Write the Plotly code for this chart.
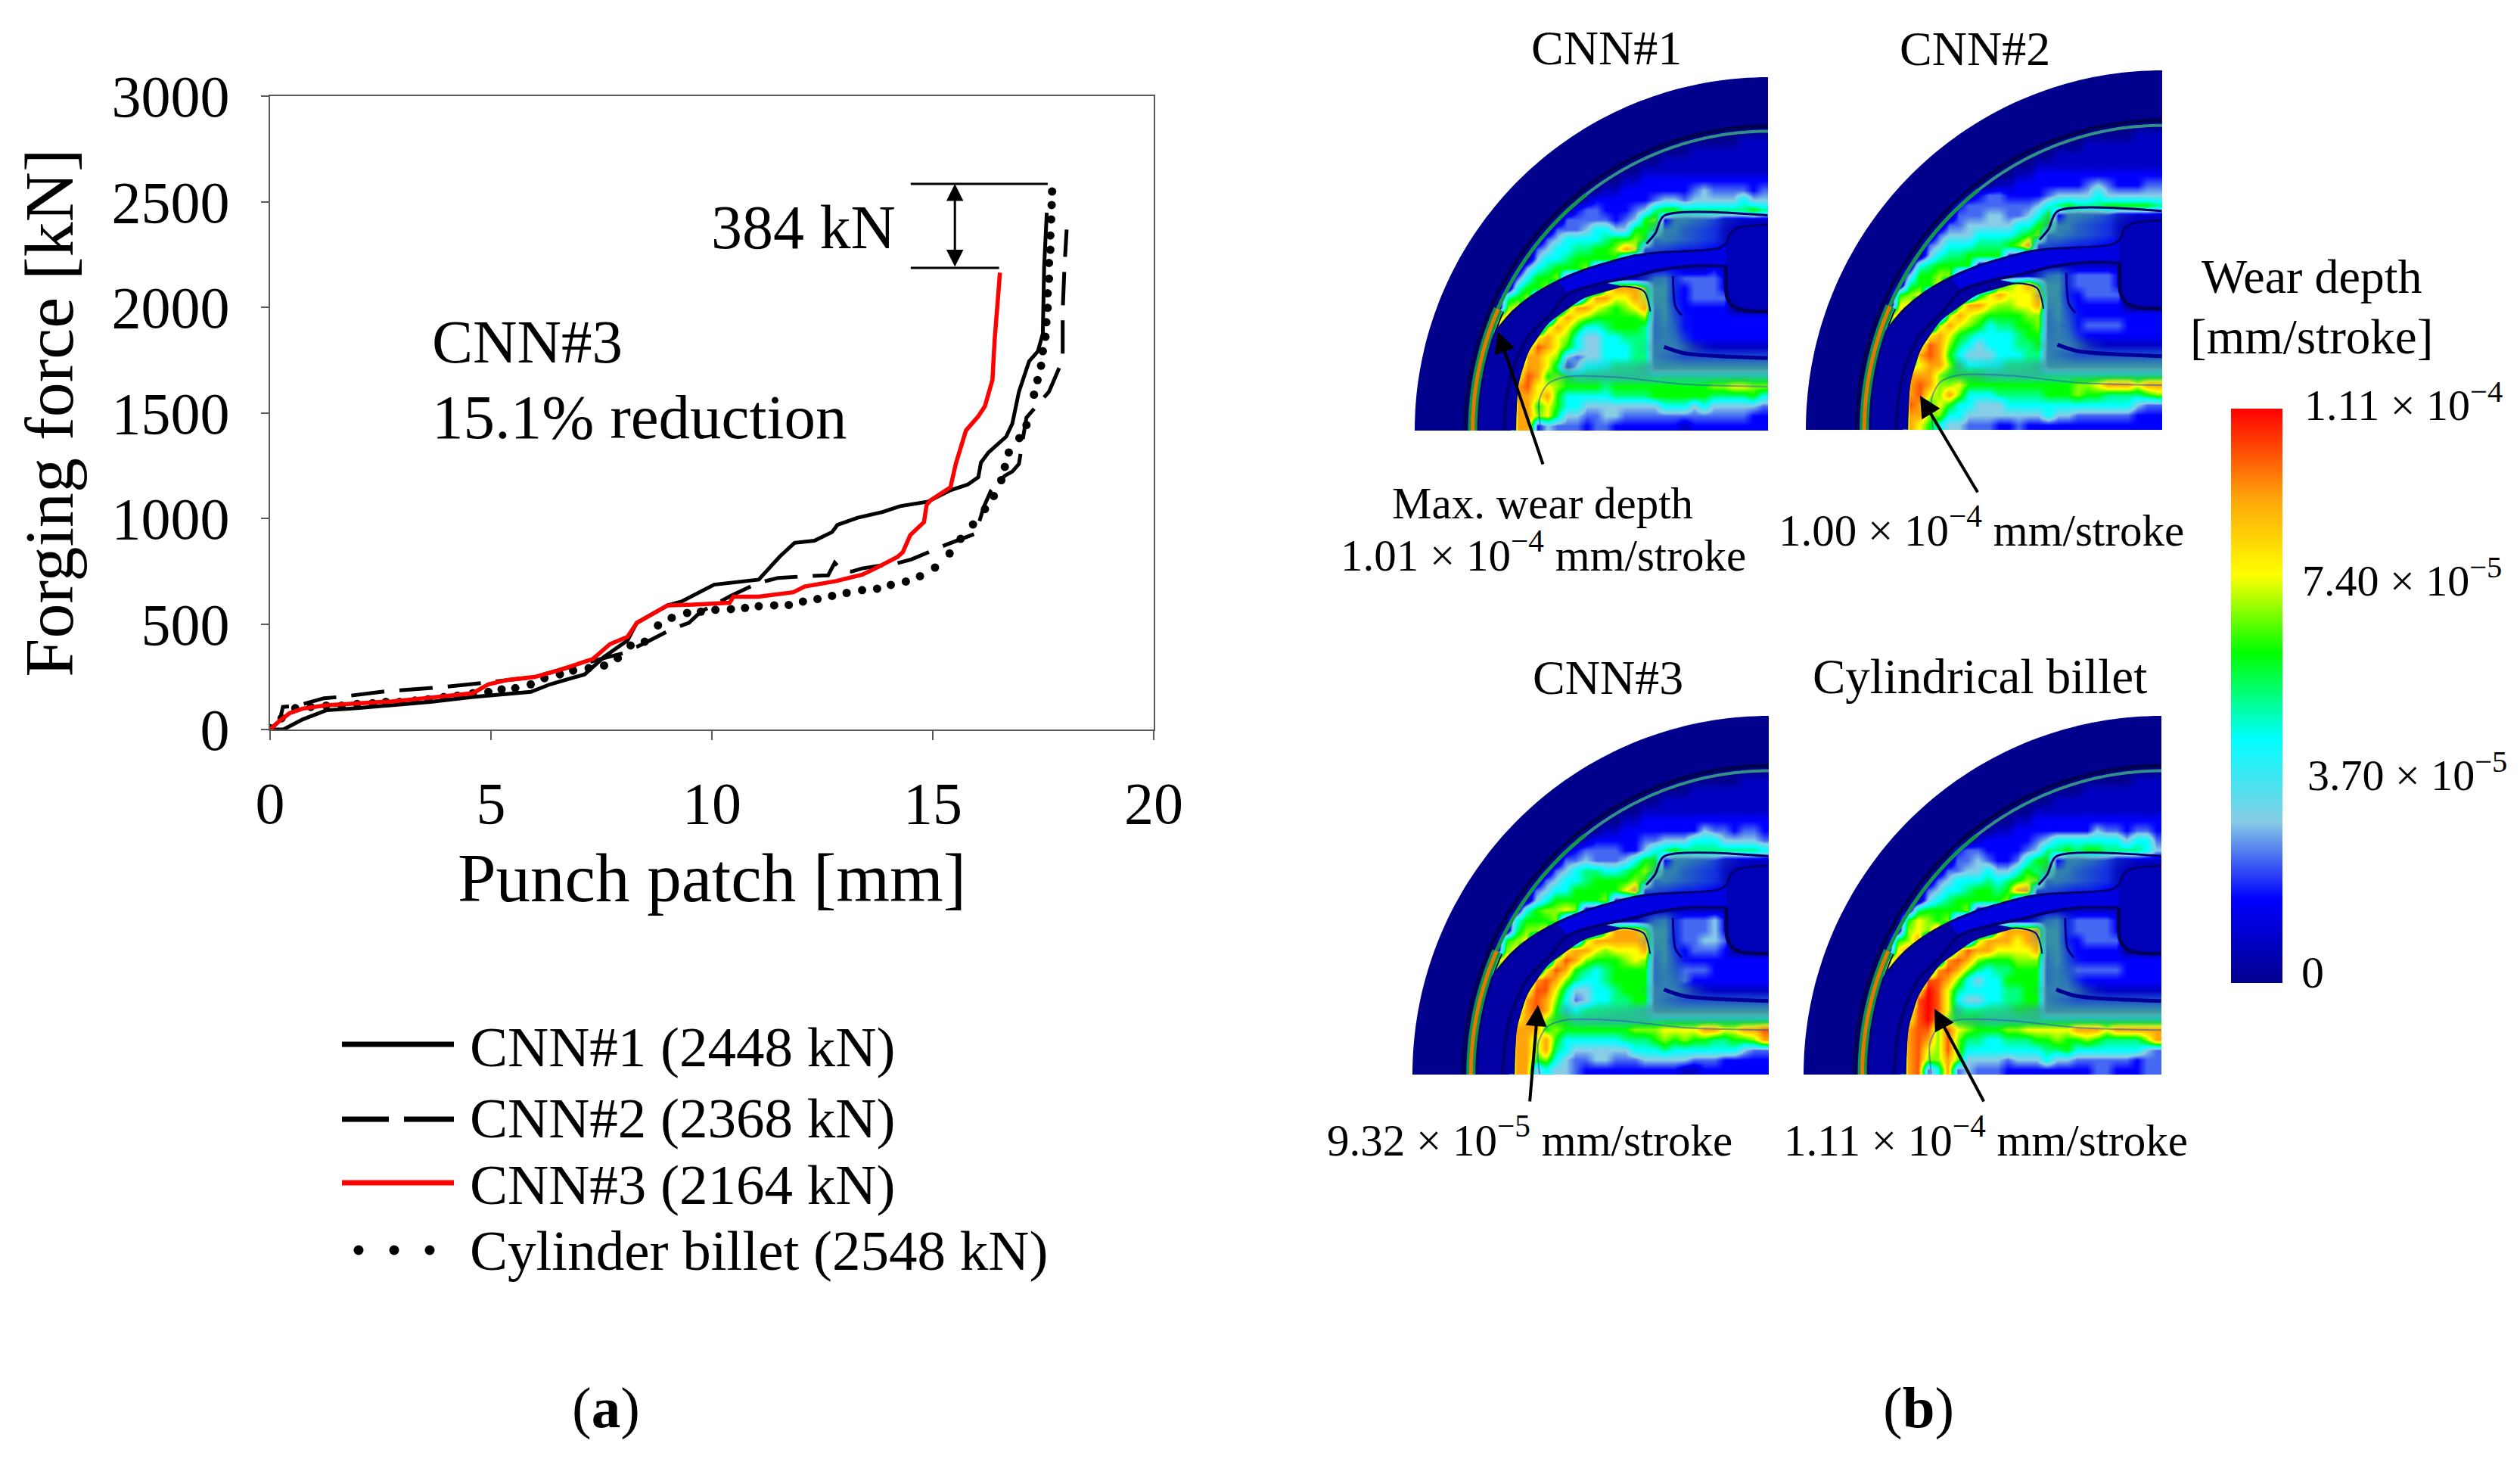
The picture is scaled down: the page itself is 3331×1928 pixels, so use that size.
import math
import plotly.graph_objects as go

W, H = 3331, 1928
FONT = "Liberation Serif"

# ---------- forging force curves ----------
cnn1_x = [0, 0.3, 0.74, 1.27, 1.97, 2.75, 3.63, 4.59, 5.9, 6.34, 7.12, 7.56, 8.09, 8.3, 9.0, 9.31, 10.05, 11.06, 11.54, 11.87, 12.32, 12.72, 12.84, 13.3, 13.86, 14.26, 14.89, 15.4, 15.8, 16.03, 16.09, 16.26, 16.66, 16.8, 16.95, 17.18, 17.38, 17.49, 17.52, 17.58]
cnn1_y = [0, 0, 48, 91, 101, 113, 131, 154, 178, 214, 261, 344, 422, 505, 588, 606, 686, 710, 820, 884, 894, 935, 969, 1003, 1030, 1058, 1079, 1133, 1161, 1195, 1264, 1312, 1387, 1449, 1600, 1744, 1792, 1875, 2190, 2448]
cnn2_x = [0, 0.22, 0.29, 0.6, 1.22, 1.57, 2.67, 3.76, 4.81, 5.99, 6.6, 7.2, 7.56, 8.0, 8.43, 9.09, 9.48, 9.75, 10.45, 11.06, 11.5, 12.29, 12.63, 12.78, 12.94, 13.16, 13.4, 14.2, 14.52, 15.3, 15.63, 15.98, 16.03, 16.15, 16.32, 16.63, 16.8, 16.95, 17.03, 17.12, 17.43, 17.63, 17.94, 17.94, 17.98, 18.03]
cnn2_y = [0, 42, 107, 112, 148, 154, 182, 198, 220, 249, 285, 320, 338, 362, 404, 475, 505, 558, 635, 695, 718, 728, 730, 790, 754, 748, 763, 788, 806, 875, 901, 929, 969, 1052, 1133, 1202, 1222, 1258, 1367, 1477, 1552, 1600, 1751, 1984, 2190, 2368]
cnn3_x = [0, 0.22, 0.44, 0.74, 1.27, 1.97, 2.75, 3.63, 4.59, 4.94, 5.38, 5.99, 6.51, 7.12, 7.3, 7.69, 8.09, 8.3, 9.0, 9.57, 10.4, 10.49, 11.06, 11.84, 12.1, 12.81, 13.4, 13.7, 14.2, 14.32, 14.49, 14.8, 14.86, 14.95, 15.4, 15.52, 15.75, 16.03, 16.18, 16.35, 16.4, 16.52]
cnn3_y = [0, 42, 77, 99, 115, 125, 133, 151, 172, 214, 235, 249, 279, 321, 333, 404, 439, 505, 588, 591, 600, 629, 629, 650, 677, 703, 733, 763, 817, 839, 921, 982, 1064, 1086, 1147, 1258, 1416, 1484, 1531, 1656, 1846, 2164]
cyl_x = [0, .26, .57, .92, 1.27, 1.62, 1.97, 2.32, 2.62, 2.93, 3.28, 3.58, 3.93, 4.24, 4.59, 4.94, 5.24, 5.55, 5.9, 6.21, 6.56, 6.86, 7.21, 7.56, 7.87, 8.16, 8.48, 8.78, 9.09, 9.44, 9.75, 10.08, 10.43, 10.75, 11.06, 11.41, 11.74, 12.06, 12.39, 12.72, 13.05, 13.4, 13.74, 14.05, 14.39, 14.71, 15.05, 15.38, 15.63, 15.91, 16.18, 16.38, 16.55, 16.63, 16.72, 16.96, 17.12, 17.29, 17.37, 17.45, 17.49, 17.55, 17.57, 17.6, 17.6, 17.63, 17.63, 17.66, 17.66, 17.68, 17.69, 17.7]
cyl_y = [6, 53, 101, 107, 113, 113, 121, 125, 131, 131, 137, 143, 154, 160, 172, 178, 190, 196, 214, 243, 261, 279, 291, 303, 338, 398, 416, 493, 529, 552, 558, 567, 570, 576, 584, 588, 590, 606, 618, 633, 647, 660, 667, 685, 701, 726, 767, 834, 903, 971, 1044, 1106, 1181, 1244, 1312, 1380, 1442, 1586, 1655, 1723, 1792, 1860, 1929, 1997, 2066, 2135, 2210, 2272, 2340, 2416, 2484, 2548]

x_ticks = [0, 5, 10, 15, 20]
y_ticks = [0, 500, 1000, 1500, 2000, 2500, 3000]
legend_labels = ["CNN#1 (2448 kN)", "CNN#2 (2368 kN)", "CNN#3 (2164 kN)", "Cylinder billet (2548 kN)"]

# ---------- wear maps: one character per cell ----------
wear_max = 1.11e-4
level_values = {"0": 0, "1": .07, "2": .146, "3": .215, "4": .282, "5": .425, "6": .5, "7": .575,
                "8": .645, "9": .711, "a": .843, "b": .92, "c": 1.0}
Z = "000000 000000 000000 000000 000000 000000"
top_rows = [Z, Z, Z, Z, Z, Z,
            "000000 000000 000000 000000 000000 000111",
            "000000 000000 000000 000000 000011 111111",
            "000000 000000 000000 000000 011111 111111",
            "000000 000000 000000 000001 111111 111111",
            "000000 000000 000000 000112 222222 222222"]
wear_cnn1 = top_rows + [
    "000000 000000 000000 011222 222234 333323",
    "000000 000000 000001 222222 344344 444544",
    "000000 000000 000023 322234 677666 666676",
    "000000 000000 000333 332347 822222 211111",
    "000000 000000 003334 554477 622222 211111",
    "000000 000000 034555 567787 222222 211111",
    "000000 000000 345566 778a92 222222 221111",
    "000000 000000 455677 777122 222222 221111",
    "000000 000004 567778 122222 222111 211111",
    "000000 000035 778100 111111 222333 321111",
    "000000 000057 781000 07aaa8 222233 321111",
    "000000 000678 111007 aa99a9 222233 331111",
    "000000 000891 1107aa 98789a 222222 220000",
    "000000 008a11 108a98 777778 222222 222222",
    "000000 00b111 18a975 567776 222222 222222",
    "000000 001110 9a9854 455666 222222 222222",
    "000000 011108 ba9754 455566 222111 111111",
    "000000 01110a a98434 455566 222222 222222",
    "000000 01118a a96245 556666 222222 222222",
    "000000 01119b a78766 666666 666666 666666",
    "000000 0111ab 998777 767777 777777 889988",
    "000000 0111aa 9a7555 556666 777777 666675",
    "000000 0111aa 797554 444444 455545 444443",
    "000000 0110aa 896443 344333 333333 333322",
    "000000 0110aa 243332 332222 222122 222222",
]
wear_cnn2 = top_rows + [
    "000000 000000 000000 011222 222234 322233",
    "000000 000000 000012 332222 344445 444444",
    "000000 000000 000233 333334 567666 777776",
    "000000 000000 000333 443345 722222 211111",
    "000000 000000 003344 444557 722222 211111",
    "000000 000000 034445 555678 222222 211111",
    "000000 000000 345556 6678a2 222222 221111",
    "000000 000000 456677 772222 222222 222111",
    "000000 000005 677771 122222 211111 111111",
    "000000 000047 788100 011111 222333 321111",
    "000000 000067 791000 0689a7 222333 321111",
    "000000 000789 111006 9a999a 222233 331111",
    "000000 000991 1107aa 98899a 222222 220000",
    "000000 008a11 108a98 777788 222222 222222",
    "000000 009111 18a987 566778 222233 332222",
    "000000 001100 9a9765 555677 222222 222222",
    "000000 011108 ba8654 555667 222111 111111",
    "000000 01110a ba7544 455566 222222 222222",
    "000000 011189 aa8655 556666 222222 222222",
    "000000 0111aa a87777 666666 666666 666666",
    "000000 0111ab a88977 777777 777889 aaa9aa",
    "000000 0111ab 98a855 566666 777877 666678",
    "000000 0111ba 797554 445555 555555 555433",
    "000000 0110aa 885544 444444 544333 333222",
    "000000 0110a9 754433 322322 222222 222222",
]
wear_cnn3 = top_rows + [
    "000000 000000 000000 011222 222224 332332",
    "000000 000000 000001 222223 344455 544443",
    "000000 000000 000123 333224 567666 666665",
    "000000 000000 000334 333457 722222 211111",
    "000000 000000 003456 655678 722222 211111",
    "000000 000000 034556 777787 222222 211111",
    "000000 000000 345577 7779a2 222222 221111",
    "000000 000000 457777 782222 222222 222111",
    "000000 000005 788981 122222 211111 111111",
    "000000 000057 778100 011111 222333 421111",
    "000000 000068 891000 07aaa8 222333 421111",
    "000000 000789 111008 aaaaaa 222334 431111",
    "000000 000891 1109aa 98999a 222233 320000",
    "000000 008a11 109ba8 777898 222222 222222",
    "000000 009111 19ba76 567777 222333 222222",
    "000000 001100 aba865 567777 222322 222222",
    "000000 011108 bb9644 556777 222111 111111",
    "000000 01110a ba8534 556677 222222 222222",
    "000000 01118a ba7556 666666 222222 222222",
    "000000 01119a a87766 666666 666666 666666",
    "000000 0111aa a78777 777788 89999a a99aab",
    "000000 0111aa 8a7555 555666 787877 66778a",
    "000000 0111aa 8a6544 444455 565555 555433",
    "000000 0110aa 785433 443334 444433 322222",
    "000000 0110aa 454432 222222 222112 222222",
]
wear_billet = top_rows + [
    "000000 000000 000000 011222 222224 332332",
    "000000 000000 000001 222223 455555 554553",
    "000000 000000 000233 222234 667677 666654",
    "000000 000000 000334 322357 722222 211111",
    "000000 000000 003344 544576 722222 211111",
    "000000 000000 034555 656788 222222 211111",
    "000000 000000 345567 767aa2 222222 221111",
    "000000 000000 456777 778222 222222 221111",
    "000000 000006 777781 122222 211111 111111",
    "000000 000079 878100 011111 222333 321111",
    "000000 000089 8a1000 08aaaa 222333 321111",
    "000000 00078a 111008 aaa9aa 222233 331111",
    "000000 0009a1 1109ba a9999a 222222 220000",
    "000000 008a11 10aba8 777888 222222 222222",
    "000000 00b111 1aba86 566777 222333 332222",
    "000000 001100 bba854 557777 222222 222222",
    "000000 011109 cb9655 556677 222111 111111",
    "000000 01110b cb9544 556677 222222 222222",
    "000000 01118b cb9666 666777 222222 222222",
    "000000 01119b ca8777 666666 666666 666666",
    "000000 0111ab b8b987 778899 999aaa 9aaaaa",
    "000000 0111ab a8b866 556667 787787 66668a",
    "000000 0111ab 98b855 555555 667555 555543",
    "000000 0110ab 88a844 443444 544333 333233",
    "000000 0110ab 35a343 332222 222223 322233",
]
# grey-teal tint seen over the die shoulder, same cells as above
teal_tint = [Z] * 14 + [
    "000000 000000 000000 000000 308876 421000",
    "000000 000000 000000 000000 788654 310000",
    "000000 000000 000000 000003 787654 310000",
    "000000 000000 000000 000035 543221 000000",
    Z, Z,
    "000000 000000 000000 000003 783000 000000",
    "000000 000000 000000 000005 993000 000000",
    "000000 000000 000000 000003 992000 000000",
    "000000 000000 000000 000000 894000 000000",
    "000000 000000 000000 000000 795100 000000",
    "000000 000000 000000 000000 786100 000000",
    "000000 000000 000000 000000 787300 000000",
    "000000 000000 000000 000002 888631 000000",
    "000000 000000 000000 000000 876555 555555",
    "000000 000000 000712 345568 999999 999999",
    "000000 000000 003567 777777 666666 666666",
    Z, Z, Z, Z, Z,
]
panel_grids = [wear_cnn1, wear_cnn2, wear_cnn3, wear_billet]
panel_boxes = [(1870, 102, 467, 467), (2387, 93, 471, 475), (1867, 946, 471, 474), (2384, 946, 473, 474)]

# die regions as fractions of a panel (u across, v down)
blue_band = ([.856, .692, .621, .549, .478, .407, .435, .535, .606, .692, .785, .881, .881],
             [.485, .496, .505, .524, .546, .576, .613, .581, .567, .546, .534, .535, .471], "rgb(0,0,225)")
navy_gap = ([.235, .278, .335, .407, .478, .535, .535, .592, .478, .378, .321, .292, .285, .18, .186, .204, .231],
            [.713, .663, .617, .576, .546, .524, .581, .592, .624, .695, .777, .870, .999, .999, .9, .8, .713], "rgb(0,0,165)")
island = ([.913, .999, .999, .934, .902, .884, .881, .881, .892],
          [.427, .417, .663, .660, .649, .621, .535, .471, .443], "rgb(0,0,185)")
regions = [navy_gap, blue_band, island]

outlines = [
    ([.999, .706, .681, .656], [.391, .392, .442, .471], "rgb(0,0,100)", 3),
    ([.999, .913, .892, .881, .856, .692, .621, .549, .478, .407, .335, .278, .235],
     [.417, .427, .443, .471, .485, .496, .505, .524, .546, .576, .617, .663, .713], "rgb(0,0,110)", 3),
    ([.881, .785, .692, .606, .535, .435, .385, .321, .278, .260, .253],
     [.535, .534, .546, .567, .581, .613, .670, .735, .827, .913, .999], "rgb(0,0,110)", 4),
    ([.881, .884, .902, .934, .999], [.535, .621, .649, .660, .663], "rgb(0,0,90)", 5),
    ([.285, .292, .321, .378, .478, .592, .649, .667],
     [.999, .870, .777, .695, .624, .592, .606, .663], "rgb(0,0,130)", 2),
    ([.731, .738, .756], [.563, .649, .674], "rgb(0,0,140)", 3),
    ([.706, .763, .999], [.763, .781, .795], "rgb(0,0,150)", 5),
    ([.357, .353, .378, .435, .585, .763, .999],
     [.999, .913, .867, .847, .850, .869, .876], "rgba(40,90,180,0.55)", 2),
]

rainbow = [[0, "rgb(0,0,140)"], [.146, "rgb(0,0,255)"], [.282, "rgb(135,205,230)"], [.425, "rgb(0,255,255)"],
           [.575, "rgb(0,255,0)"], [.711, "rgb(255,255,0)"], [.843, "rgb(255,165,10)"], [1, "rgb(255,0,0)"]]
teal_scale = [[0, "rgba(60,160,155,0)"], [1, "rgba(60,160,155,0.9)"]]

fig = go.Figure()
# main chart
fig.add_trace(go.Scatter(x=cnn1_x, y=cnn1_y, mode="lines", line=dict(color="black", width=5), hoverinfo="skip"))
fig.add_trace(go.Scatter(x=cnn2_x, y=cnn2_y, mode="lines", line=dict(color="black", width=5, dash="44px,20px"), hoverinfo="skip"))
fig.add_trace(go.Scatter(x=cyl_x, y=cyl_y, mode="markers", marker=dict(color="black", size=11), hoverinfo="skip"))
fig.add_trace(go.Scatter(x=cnn3_x, y=cnn3_y, mode="lines", line=dict(color="rgb(255,0,0)", width=5.5), hoverinfo="skip"))

# wear maps
for i, (rows, box) in enumerate(zip(panel_grids, panel_boxes)):
    left, top, w, h = box
    z = [[level_values[ch] * wear_max for ch in row.replace(" ", "")] for row in rows]
    n = len(z)
    trace = go.Heatmap(z=z, x0=left + w / 72, dx=w / 36, y0=top + h / (2 * n), dy=h / n, xaxis="x2", yaxis="y2",
                       colorscale=rainbow, zmin=0, zmax=wear_max, zsmooth="best", hoverinfo="skip", showscale=(i == 0))
    if i == 0:
        trace.colorbar = dict(x=2949 / W, xanchor="left", y=1 - 540 / H, yanchor="top", lenmode="pixels", len=759,
                              thicknessmode="pixels", thickness=68, xpad=0, ypad=0, outlinewidth=0,
                              showticklabels=False, ticks="", tickvals=[])
    fig.add_trace(trace)
    t = [[int(ch) / 9 for ch in row.replace(" ", "")] for row in teal_tint]
    fig.add_trace(go.Heatmap(z=t, x0=left + w / 72, dx=w / 36, y0=top + h / (2 * n), dy=h / n, xaxis="x2", yaxis="y2",
                             colorscale=teal_scale, zmin=0, zmax=1, zsmooth="best", hoverinfo="skip", showscale=False))
    for us, vs, col in regions:
        fig.add_trace(go.Scatter(x=[left + u * w for u in us], y=[top + v * h for v in vs], mode="lines", xaxis="x2", yaxis="y2",
                                 fill="toself", fillcolor=col, line=dict(width=0), hoverinfo="skip"))
    for us, vs, col, lw in outlines:
        fig.add_trace(go.Scatter(x=[left + u * w for u in us], y=[top + v * h for v in vs], mode="lines", xaxis="x2", yaxis="y2",
                                 line=dict(color=col, width=lw, shape="spline", smoothing=0.8), hoverinfo="skip"))

shapes = []


def arc_points(box, frac_x, frac_y, a0, a1, n=80):
    left, top, w, h = box
    cx, cy = left + w, top + h
    pts = []
    for k in range(n + 1):
        a = math.radians(a0 + (a1 - a0) * k / n)
        pts.append((cx - frac_x * w * math.cos(a), cy - frac_y * h * math.sin(a)))
    return pts


def add_arc(box, fx, fy, a0, a1, color, width):
    pts = arc_points(box, fx, fy, a0, a1)
    path = "M " + " L ".join(f"{x:.1f},{y:.1f}" for x, y in pts)
    shapes.append(dict(type="path", path=path, xref="x2", yref="y2", line=dict(color=color, width=width), layer="above"))


for box in panel_boxes:
    left, top, w, h = box
    pts = arc_points(box, 1, 1, 90, 0)
    path = f"M {left - 6},{top - 6} L {left + w + 1},{top - 6} L " + " L ".join(f"{x:.1f},{y:.1f}" for x, y in pts) + f" L {left - 6},{top + h + 1} Z"
    shapes.append(dict(type="path", path=path, xref="x2", yref="y2", fillcolor="white", line=dict(width=0), layer="above"))
    add_arc(box, .857, .861, 0, 90, "rgb(0,0,80)", 5)
    add_arc(box, .82, .827, 0, 24, "rgb(0,0,100)", 2)
    add_arc(box, .837, .847, 50, 90, "rgb(50,145,130)", 4)
    add_arc(box, .837, .847, 22, 52, "rgb(20,150,70)", 5)
    add_arc(box, .836, .846, 0, 24, "rgb(10,150,70)", 12)
    add_arc(box, .836, .846, 0, 24, "rgb(225,120,0)", 5)

# bracket of the 384 kN difference
bracket_top, bracket_bottom = 2584, 2186
shapes.append(dict(type="line", xref="x", yref="y", x0=14.5, x1=17.6, y0=bracket_top, y1=bracket_top, line=dict(color="black", width=3)))
shapes.append(dict(type="line", xref="x", yref="y", x0=14.5, x1=16.5, y0=bracket_bottom, y1=bracket_bottom, line=dict(color="black", width=3)))

# hand-made legend keys (three dots cannot come from a Plotly legend)
key_x0, key_x1 = 452, 600
key_rows = [1380, 1479, 1563, 1652]
shapes.append(dict(type="line", xref="x2", yref="y2", x0=key_x0, x1=key_x1, y0=key_rows[0], y1=key_rows[0], line=dict(color="black", width=7)))
shapes.append(dict(type="line", xref="x2", yref="y2", x0=key_x0, x1=514, y0=key_rows[1], y1=key_rows[1], line=dict(color="black", width=7)))
shapes.append(dict(type="line", xref="x2", yref="y2", x0=534, x1=key_x1, y0=key_rows[1], y1=key_rows[1], line=dict(color="black", width=7)))
shapes.append(dict(type="line", xref="x2", yref="y2", x0=key_x0, x1=key_x1, y0=key_rows[2], y1=key_rows[2], line=dict(color="rgb(255,0,0)", width=7)))
fig.add_trace(go.Scatter(x=[474, 521, 568], y=[key_rows[3]] * 3, mode="markers", xaxis="x2", yaxis="y2",
                         marker=dict(color="black", size=13), hoverinfo="skip"))


def note(text, x, y, size, anchor="center"):
    return dict(text=text, x=x, y=y, xref="x2", yref="y2", showarrow=False, xanchor=anchor, yanchor="middle",
                font=dict(family=FONT, size=size, color="black"))


def pointer(x, y, ax, ay):
    return dict(x=x, y=y, ax=ax, ay=ay, xref="x2", yref="y2", axref="x2", ayref="y2", text="", showarrow=True,
                arrowhead=2, arrowsize=1.4, arrowwidth=4, arrowcolor="black", standoff=0)


annotations = [
    note("384 kN", 1062, 300, 82),
    note("CNN#3", 569, 452, 81, "left"),
    note("15.1% reduction", 569, 551, 83, "left"),
    note("(<b>a</b>)", 801, 1860, 77),
    note("(<b>b</b>)", 2536, 1860, 77),
    note("CNN#1", 2123, 63, 64), note("CNN#2", 2610, 64, 64),
    note("CNN#3", 2125, 895, 64), note("Cylindrical billet", 2617, 894, 65),
    note("Wear depth", 3056, 365, 64), note("[mm/stroke]", 3055, 445, 65),
    note("Max. wear depth", 2039, 665, 59),
    note("1.01 × 10<sup>−4</sup> mm/stroke", 2040, 729, 59),
    note("1.00 × 10<sup>−4</sup> mm/stroke", 2619, 696, 59),
    note("9.32 × 10<sup>−5</sup> mm/stroke", 2022, 1502, 59),
    note("1.11 × 10<sup>−4</sup> mm/stroke", 2625, 1502, 59),
    note("1.11 × 10<sup>−4</sup>", 3044, 531, 58, "left"),
    note("7.40 × 10<sup>−5</sup>", 3041, 763, 58, "left"),
    note("3.70 × 10<sup>−5</sup>", 3048, 1020, 58, "left"),
    note("0", 3040, 1285, 60, "left"),
    pointer(1980, 438, 2040, 615), pointer(2538, 523, 2615, 652),
    pointer(2033, 1328, 2022, 1457), pointer(2557, 1333, 2623, 1457),
    dict(x=15.5, y=bracket_top, ax=15.5, ay=bracket_bottom, xref="x", yref="y", axref="x", ayref="y", text="", showarrow=True,
         arrowhead=2, arrowside="end+start", arrowsize=1.5, arrowwidth=3, arrowcolor="black", standoff=0, startstandoff=0),
]
for label, row in zip(legend_labels, [1383, 1477, 1565, 1652]):
    annotations.append(note(label, 619, row, 75, "left"))

axis_line = "rgb(90,90,90)"
tick_font = dict(family=FONT, size=78, color="black")
clear = "rgba(0,0,0,0)"
fig.update_layout(
    width=W, height=H, margin=dict(l=0, r=0, t=0, b=0), paper_bgcolor="white", plot_bgcolor=clear,
    showlegend=False, shapes=shapes, annotations=annotations,
    xaxis=dict(domain=[357 / W, 1525 / W], range=[0, 20], tickvals=x_ticks, ticks="outside", ticklen=12, tickwidth=2,
               tickcolor=axis_line, linecolor=axis_line, linewidth=2, mirror=True, showgrid=False, zeroline=False,
               tickfont=tick_font, ticklabelstandoff=16, automargin=False,
               title=dict(text="Punch patch [mm]", font=dict(family=FONT, size=91, color="black"), standoff=24)),
    yaxis=dict(domain=[1 - 964 / H, 1 - 127 / H], range=[0, 3000], tickvals=y_ticks, ticks="outside", ticklen=10, tickwidth=2,
               tickcolor=axis_line, linecolor=axis_line, linewidth=2, mirror=True, showgrid=False, zeroline=False,
               tickfont=tick_font, ticklabelstandoff=26, automargin=False,
               title=dict(text="Forging force [kN]", font=dict(family=FONT, size=92, color="black"), standoff=20)),
    xaxis2=dict(domain=[0, 1], range=[0, W], visible=False, fixedrange=True, anchor="y2", automargin=False),
    yaxis2=dict(domain=[0, 1], range=[H, 0], visible=False, fixedrange=True, anchor="x2", automargin=False),
)

fig.write_html("out.html", config=dict(displayModeBar=False),
               post_script="document.body.style.margin='0';document.body.style.overflow='hidden';")
